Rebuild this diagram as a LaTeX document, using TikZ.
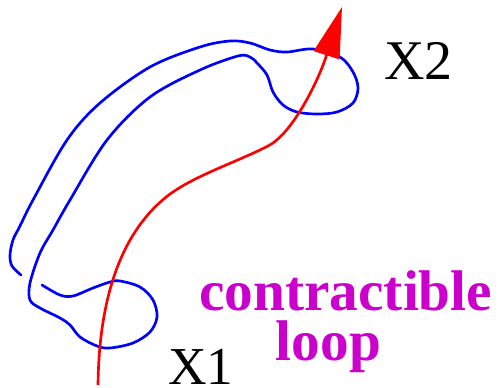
\documentclass[tikz,border=0pt]{standalone}
\usepackage{fontspec}
\setmainfont{Liberation Serif}
\usepackage{tikz}
\usetikzlibrary{arrows.meta}
\definecolor{loopmag}{RGB}{204,0,204}

\begin{document}
\begin{tikzpicture}[x=0.75pt, y=-0.75pt, >=Stealth]
    \useasboundingbox (0,0) rectangle (499,388);

    % Define the end points of the path
    \coordinate (X1pt) at (98,385);
    \coordinate (X2pt) at (342,7);

    % Draw the loop
    \draw[blue, line width=2pt, line cap=round, line join=round]
        plot[smooth, tension=0.55] coordinates {
        (21,275) (12,266) (10,255) (13,240) (20,226) (33,200) (67,140)
        (100,103) (150,67) (200,47) (230,41) (250,43) (270,50) (287,52)
        (313,49) (340,57) (353,72) (358,88) (353,103) (337,112) (317,114)
        (297,112) (283,105) (273,92) (267,75) (257,63) (250,57) (238,56)
        (200,70) (150,97) (107,140) (70,200) (53,230) (40,253) (30,283)
        (30,300) (40,308) (60,318) (70,325) (80,337) (97,346) (110,348)
        (133,343) (150,332) (157,317) (153,300) (140,287) (120,281)
        (110,282) (93,288) (73,296) (60,295) (42,285)};

    % Draw the path from X1 to X2
    \draw[red, line width=2pt, -{Triangle[length=38pt, width=20pt]}]
        (X1pt) .. controls (99,300) and (120,235) .. (165,198)
               .. controls (190,177) and (235,163) .. (268,146)
               .. controls (292,134) and (318,82) .. (X2pt);

    % Labels
    \node[anchor=base west, inner sep=0, font=\fontsize{40}{40}\selectfont] (X1) at (168,384) {X1};
    \node[anchor=base west, inner sep=0, font=\fontsize{42}{42}\selectfont] (X2) at (384,80) {X2};
    \node[anchor=base west, inner sep=0, align=center, text=loopmag,
          font=\fontsize{43}{37.5}\selectfont\bfseries] (loop) at (199,360)
          {contractible\\loop\hspace*{0.6em}};

\end{tikzpicture}
\end{document}
